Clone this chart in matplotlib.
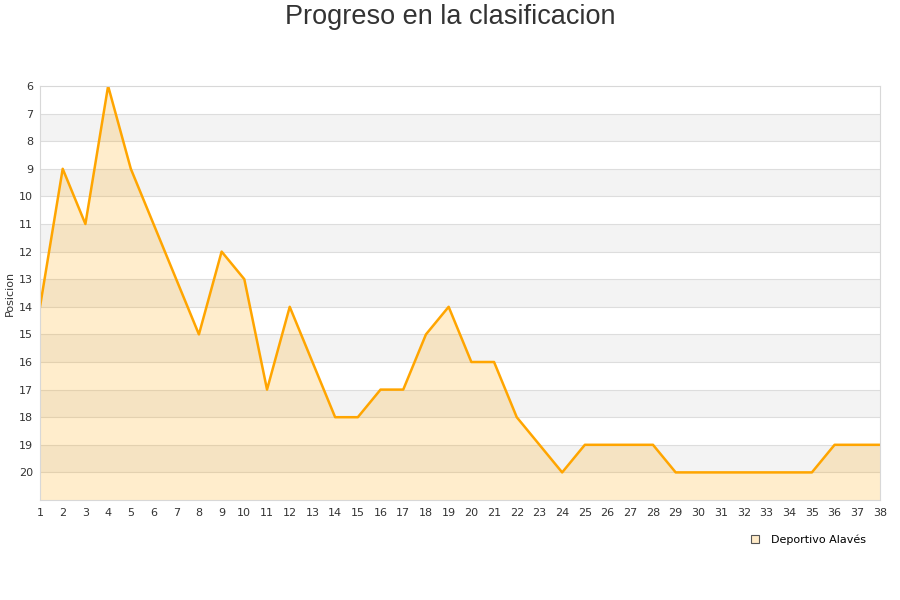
import matplotlib
matplotlib.use('Agg')
import matplotlib.pyplot as plt
from matplotlib.lines import Line2D

jornadas = list(range(1, 39))
posicion = [14, 9, 11, 6, 9, 11, 13, 15, 12, 13, 17, 14, 16, 18, 18, 17, 17, 15, 14, 16,
            16, 18, 19, 20, 19, 19, 19, 19, 20, 20, 20, 20, 20, 20, 20, 19, 19, 19]
equipo = 'Deportivo Alavés'
titulo = 'Progreso en la clasificacion'

fig = plt.figure(figsize=(9, 6), dpi=100)
ax = fig.add_axes([40 / 900, 100 / 600, 840 / 900, 414 / 600])

# bandas alternas
for y in range(6, 21):
    if (y - 6) % 2 == 1:
        ax.axhspan(y, y + 1, color='#f3f3f3', zorder=0, lw=0)
for y in range(7, 21):
    ax.axhline(y, color='#dddddd', lw=0.8, zorder=0.5)

ax.fill_between(jornadas, posicion, 21, color='#ffa500', alpha=0.2, lw=0, zorder=1)
ax.plot(jornadas, posicion, color='#ffa500', lw=1.8, zorder=2)

ax.set_xlim(1, 38)
ax.set_ylim(21, 6)
ax.set_xticks(jornadas)
ax.set_yticks(range(6, 21))
ax.tick_params(length=0, labelsize=8, colors='#333333', pad=6)
ax.tick_params(axis='y', pad=5)
for s in ax.spines.values():
    s.set_color('#d8d8d8')
fig.text(10 / 900, 1 - 293 / 600, 'Posicion', fontsize=8, color='#333333',
         rotation=90, ha='center', va='center')

fig.suptitle(titulo, fontsize=19.5, color='#333333', y=0.993, family='Liberation Sans')

handle = Line2D([], [], marker='s', ls='', markersize=6, markerfacecolor='#ffebc8',
                markeredgecolor='#555555', markeredgewidth=0.8)
fig.legend([handle], [equipo], loc='center', bbox_to_anchor=(805 / 900, 1 - 540 / 600),
           frameon=False, fontsize=8, handletextpad=0.4)

fig.savefig('out.png', dpi=100)
